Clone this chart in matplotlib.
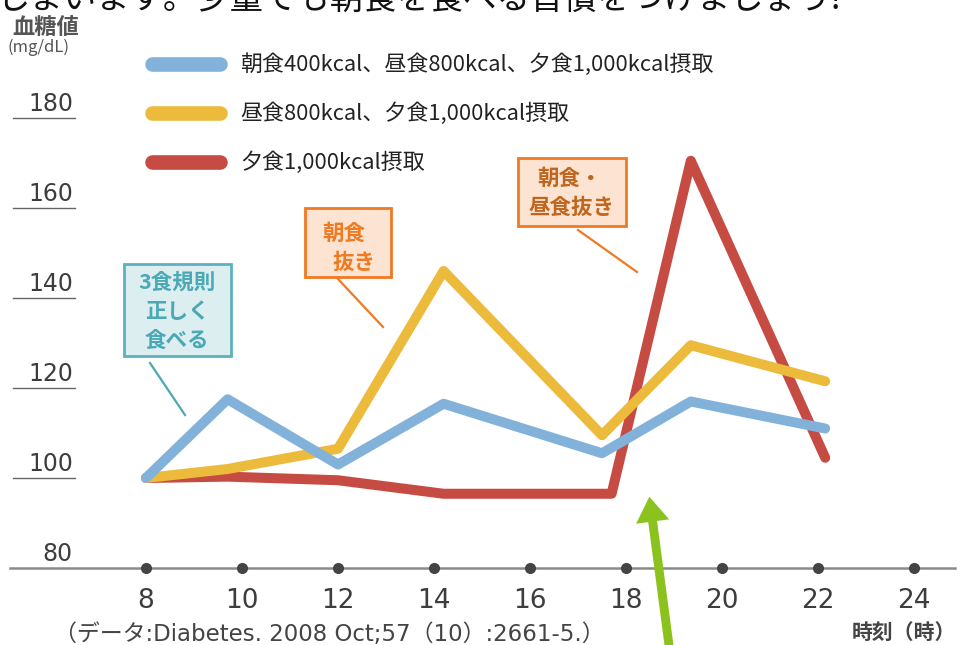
import matplotlib
matplotlib.use('Agg')
import matplotlib.pyplot as plt
from matplotlib.patches import Rectangle

plt.rcParams['font.family'] = ['Noto Sans CJK JP', 'DejaVu Sans']
LAT = ['DejaVu Sans', 'Noto Sans CJK JP']

# ---- data ----
hours_blue = [8, 9.7, 12, 14.2, 17.5, 19.35, 22.15]
glucose_blue = [100, 117.5, 103, 116.5, 105.5, 117, 111]
hours_yellow = [8, 9.7, 12, 14.2, 17.5, 19.35, 22.15]
glucose_yellow = [100, 102, 106.5, 146, 109.5, 129.5, 121.5]
hours_red = [8, 9.7, 12, 14.2, 17.7, 19.35, 22.15]
glucose_red = [100, 100.3, 99.5, 96.5, 96.5, 170.5, 104.5]

x_ticks = [8, 10, 12, 14, 16, 18, 20, 22, 24]
y_ticks = [80, 100, 120, 140, 160, 180]
legend_labels = ['朝食400kcal、昼食800kcal、夕食1,000kcal摂取',
                 '昼食800kcal、夕食1,000kcal摂取',
                 '夕食1,000kcal摂取']
series_colors = ['#82B2D9', '#ECBB3C', '#C64B42']

# ---- pixel <-> data helpers for layout ----
W, H = 960, 645
def X(px):
    return 8 + (px - 146) / 48.0
def Y(py):
    return 180 - (py - 118) / 4.5

fig = plt.figure(figsize=(W / 100, H / 100), dpi=100)
ax = fig.add_axes([0, 0, 1, 1])
ax.set_xlim(X(0), X(W))
ax.set_ylim(Y(H), Y(0))
ax.axis('off')

LW = 7.2
series = [(hours_red, glucose_red, series_colors[2], 2),
          (hours_yellow, glucose_yellow, series_colors[1], 3),
          (hours_blue, glucose_blue, series_colors[0], 4)]
for hx, gy, c, z in series:
    ax.plot(hx, gy, color=c, lw=LW, solid_joinstyle='round',
            solid_capstyle='round', zorder=z)

# x axis line and dots
ax.plot([X(10), X(955)], [80, 80], color='#8a8a8a', lw=1.8, zorder=1)
ax.plot(x_ticks, [80] * len(x_ticks), 'o', color='#444444', ms=7, zorder=1.5)
for t in x_ticks:
    ax.text(t, Y(601), str(t), ha='center', va='center', fontsize=19,
            color='#3d3d3d', family=LAT)

# y labels with underlines
for v in y_ticks:
    ax.text(X(73), v + 1.5, str(v), ha='right', va='baseline', fontsize=17,
            color='#3d3d3d', family=LAT)
    if v > 80:
        ax.plot([X(13), X(75)], [v, v], color='#666666', lw=1.0)

# axis titles
ax.text(X(12), Y(27), '血糖値', ha='left', va='center', fontsize=16,
        fontweight='bold', color='#555555')
ax.text(X(8), Y(47), '(mg/dL)', ha='left', va='center', fontsize=12,
        color='#555555')
ax.text(X(956), Y(632), '時刻（時）', ha='right', va='center', fontsize=15,
        fontweight='bold', color='#444444')
ax.text(X(54), Y(635), '（データ:Diabetes. 2008 Oct;57（10）:2661-5.）',
        ha='left', va='center', fontsize=16.5, color='#444444', family=LAT)

# cut-off headline at the top
ax.text(X(-4), Y(9), 'しまいます。少量でも朝食を食べる習慣をつけましょう!',
        ha='left', va='baseline', fontsize=24, color='#111111')

# legend
for i, (lab, c) in enumerate(zip(legend_labels, series_colors)):
    ypx = 64 + i * 49
    ax.plot([X(152), X(220)], [Y(ypx), Y(ypx)], color=c, lw=10.5,
            solid_capstyle='round')
    ax.text(X(240), Y(ypx + 1), lab, ha='left', va='center', fontsize=15.8,
            color='#222222')

# annotation boxes
def box(x0, y0, x1, y1, fc, ec):
    r = Rectangle((X(x0), Y(y1)), X(x1) - X(x0), Y(y0) - Y(y1),
                  facecolor=fc, edgecolor=ec, lw=2, zorder=6)
    ax.add_patch(r)

box(124, 264, 231, 356, '#DDEEF1', '#5BB2BD')
for txt, xc, yc in [('3食規則', 177, 282), ('正しく', 177, 311), ('食べる', 177, 340)]:
    ax.text(X(xc), Y(yc), txt, ha='center', va='center', fontsize=15.5,
            fontweight='bold', color='#4AA9B5', zorder=7)
ax.plot([X(150), X(185)], [Y(363), Y(415)], color='#4AA9B5', lw=1.6, zorder=6)

box(305, 208, 391, 277, '#FDE4D2', '#F07A22')
ax.text(X(344), Y(233), '朝食', ha='center', va='center', fontsize=15.5,
        fontweight='bold', color='#F07A22', zorder=7)
ax.text(X(354), Y(262), '抜き', ha='center', va='center', fontsize=15.5,
        fontweight='bold', color='#F07A22', zorder=7)
ax.plot([X(338), X(383)], [Y(279), Y(327)], color='#F07A22', lw=1.6, zorder=6)

box(518, 158, 626, 226, '#FDE4D2', '#F07A22')
ax.text(X(570), Y(178), '朝食・', ha='center', va='center', fontsize=15.5,
        fontweight='bold', color='#C0661E', zorder=7)
ax.text(X(572), Y(207), '昼食抜き', ha='center', va='center', fontsize=15.5,
        fontweight='bold', color='#C0661E', zorder=7)
ax.plot([X(578), X(637)], [Y(230), Y(272)], color='#F07A22', lw=1.6, zorder=6)

# green arrow
ax.annotate('', xy=(X(649), Y(494)), xytext=(X(672), Y(668)),
            arrowprops=dict(arrowstyle='simple,head_width=1.2,head_length=0.9,tail_width=0.32',
                            mutation_scale=20, color='#8CC21E', lw=0),
            zorder=8, annotation_clip=False)

fig.savefig('out.png', dpi=100)
